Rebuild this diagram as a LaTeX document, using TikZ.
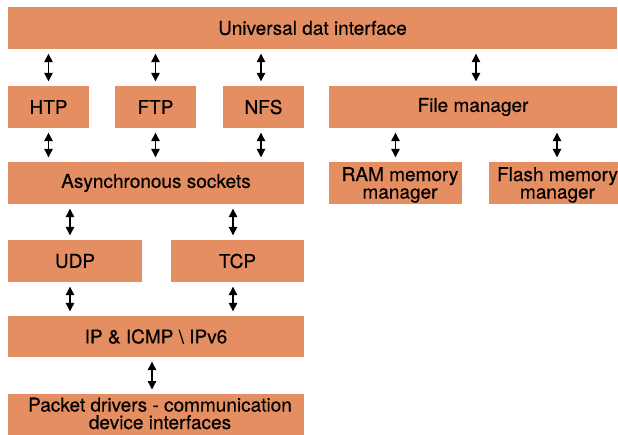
\documentclass[tikz,border=0pt]{standalone}
\usepackage{fontspec}
\setmainfont{TeX Gyre Heros}[FakeBold=0.4]
\usetikzlibrary{arrows.meta}
\definecolor{boxfill}{RGB}{229,142,98}
\begin{document}
\begin{tikzpicture}[x=1pt,y=-1pt,
  boxfont/.style={font=\fontsize{19}{17.5}\selectfont,text=black},
  box/.style={fill=boxfill,draw=none,inner sep=0pt,minimum height=42pt,align=center,boxfont},
  arr/.style={{Triangle[width=8.5pt,length=8.5pt]}-{Triangle[width=8.5pt,length=8.5pt]},line width=1.3pt,
    shorten <=4.5pt,shorten >=4.5pt}]
\useasboundingbox (0,0) rectangle (618,434);
\node[box,minimum width=609pt] (top) at (312.5,28) {Universal dat interface};
\node[box,minimum width=81pt] (htp) at (48.5,107) {HTP};
\node[box,minimum width=81pt] (ftp) at (155.5,107) {FTP};
\node[box,minimum width=81pt] (nfs) at (263.5,107) {NFS};
\node[box,minimum width=288pt] (fm) at (473,107) {File manager};
\node[box,minimum width=296pt] (async) at (156,183) {Asynchronous sockets};
\node[box,minimum width=133pt] (ram) at (395.5,183) {\raisebox{-2.5pt}[\height][\depth]{\begin{tabular}{@{\hspace{9pt}}c@{}}RAM memory\\manager\end{tabular}}};
\node[box,minimum width=127pt] (flash) at (553.5,183) {\raisebox{-2.5pt}[\height][\depth]{\begin{tabular}{@{\hspace{8pt}}c@{}}Flash memory\\manager\end{tabular}}};
\node[box,minimum width=134pt] (udp) at (75,261) {UDP};
\node[box,minimum width=133pt] (tcp) at (237.5,261) {TCP};
\node[box,minimum width=296pt,minimum height=41pt] (ip) at (156,336.5) {IP \& ICMP \textbackslash{} IPv6};
\node[box,minimum width=296pt,minimum height=46pt,anchor=north] (pkt) at (156,394) {};
\node[boxfont,align=center,inner sep=0pt,anchor=north] (pkttext) at (160,397.5) {Packet drivers - communication\\device interfaces};
% arrows
\draw[arr] (htp.north |- top.south) -- (htp.north);
\draw[arr] (ftp.north |- top.south) -- (ftp.north);
\draw[arr] ([xshift=-2.5pt]nfs.north |- top.south) -- ([xshift=-2.5pt]nfs.north);
\draw[arr] ([xshift=3pt]fm.north |- top.south) -- ([xshift=3pt]fm.north);
\draw[arr] (htp.south) -- (htp.south |- async.north);
\draw[arr] (ftp.south) -- (ftp.south |- async.north);
\draw[arr] ([xshift=-2.5pt]nfs.south) -- ([xshift=-2.5pt]nfs.south |- async.north);
\draw[arr] (ram.north |- fm.south) -- (ram.north);
\draw[arr] ([xshift=3.5pt]flash.north |- fm.south) -- ([xshift=3.5pt]flash.north);
\draw[arr] ([xshift=-5pt]udp.north |- async.south) -- ([xshift=-5pt]udp.north);
\draw[arr] ([xshift=-4.5pt]tcp.north |- async.south) -- ([xshift=-4.5pt]tcp.north);
\draw[arr] ([xshift=-5pt]udp.south) -- ([xshift=-5pt]udp.south |- ip.north);
\draw[arr] ([xshift=-4.5pt]tcp.south) -- ([xshift=-4.5pt]tcp.south |- ip.north);
\draw[arr] ([xshift=-4pt]ip.south) -- ([xshift=-4pt]ip.south |- pkt.north);
\end{tikzpicture}
\end{document}
